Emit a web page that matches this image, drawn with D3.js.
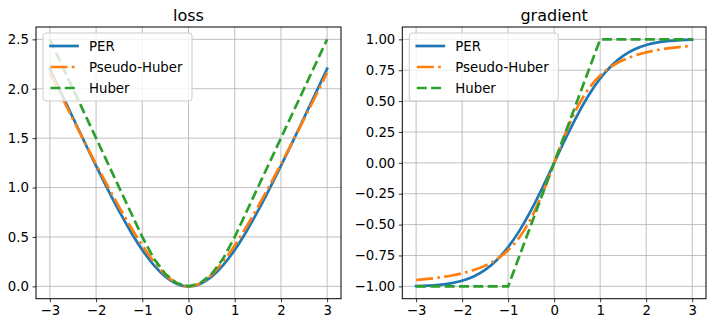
<!DOCTYPE html>
<html><head><meta charset="utf-8">
<script src="https://cdn.jsdelivr.net/npm/d3@7/dist/d3.min.js"></script>
<style>body{margin:0;background:#fff}svg{display:block;font-family:"DejaVu Sans",sans-serif}</style>
</head><body>
<svg id="chart" width="716" height="327"></svg>
<script>
const xs = [-3,-2.75,-2.5,-2.25,-2,-1.75,-1.5,-1.25,-1,-0.75,-0.5,-0.25,0,0.25,0.5,0.75,1,1.25,1.5,1.75,2,2.25,2.5,2.75,3];
const perLoss = [2.2029,1.9539,1.7061,1.4606,1.2191,0.9845,0.7607,0.5533,0.3687,0.2145,0.0977,0.0248,0,0.0248,0.0977,0.2145,0.3687,0.5533,0.7607,0.9845,1.2191,1.4606,1.7061,1.9539,2.2029];
const pseudoLoss = [2.1623,1.9262,1.6926,1.4622,1.2361,1.0156,0.8028,0.6008,0.4142,0.25,0.118,0.0308,0,0.0308,0.118,0.25,0.4142,0.6008,0.8028,1.0156,1.2361,1.4622,1.6926,1.9262,2.1623];
const huberLoss = [2.5,2.25,2,1.75,1.5,1.25,1,0.75,0.5,0.28125,0.125,0.03125,0,0.03125,0.125,0.28125,0.5,0.75,1,1.25,1.5,1.75,2,2.25,2.5];
const perGrad = [-0.9973,-0.994,-0.9876,-0.9756,-0.9545,-0.9199,-0.8664,-0.7887,-0.6827,-0.5467,-0.3829,-0.1974,0,0.1974,0.3829,0.5467,0.6827,0.7887,0.8664,0.9199,0.9545,0.9756,0.9876,0.994,0.9973];
const pseudoGrad = [-0.9487,-0.9398,-0.9285,-0.9138,-0.8944,-0.8682,-0.8321,-0.7809,-0.7071,-0.6,-0.4472,-0.2425,0,0.2425,0.4472,0.6,0.7071,0.7809,0.8321,0.8682,0.8944,0.9138,0.9285,0.9398,0.9487];
const huberGrad = [-1,-1,-1,-1,-1,-1,-1,-1,-1,-0.75,-0.5,-0.25,0,0.25,0.5,0.75,1,1,1,1,1,1,1,1,1];
const seriesNames = ["PER","Pseudo-Huber","Huber"];
const xTicks = [-3,-2,-1,0,1,2,3];
const lossTicks = [0,0.5,1,1.5,2,2.5];
const gradTicks = [-1,-0.75,-0.5,-0.25,0,0.25,0.5,0.75,1];

const styles = [
  {color:"#1f77b4", dash:null, smooth:true},
  {color:"#ff7f0e", dash:"17,4.3,2.7,4.3", smooth:true},
  {color:"#2ca02c", dash:"10,4.3", smooth:false}
];
const LW = 2.7;
const svg = d3.select("#chart");
const FS = 13.3;
const fmtMinus = s => s.replace("-", "\u2212");

function panel(cfg){
  const x = d3.scaleLinear().domain([-3.3,3.3]).range([cfg.x0,cfg.x1]);
  const y = d3.scaleLinear().domain(cfg.ydom).range([298.7,27]);
  const g = svg.append("g");
  g.selectAll(".gx").data(xTicks).join("line")
    .attr("x1",d=>x(d)).attr("x2",d=>x(d)).attr("y1",27).attr("y2",298.7)
    .attr("stroke","#b0b0b0").attr("stroke-width",0.8);
  g.selectAll(".gy").data(cfg.ticks).join("line")
    .attr("y1",d=>y(d)).attr("y2",d=>y(d)).attr("x1",cfg.x0).attr("x2",cfg.x1)
    .attr("stroke","#b0b0b0").attr("stroke-width",0.8);
  const xa = g.append("g").attr("transform",`translate(0,298.7)`)
    .call(d3.axisBottom(x).tickValues(xTicks).tickSize(3.5).tickPadding(3.5).tickFormat(d=>fmtMinus(d3.format("d")(d))));
  const ya = g.append("g").attr("transform",`translate(${cfg.x0},0)`)
    .call(d3.axisLeft(y).tickValues(cfg.ticks).tickSize(3.5).tickPadding(3.5).tickFormat(d=>fmtMinus(d3.format(cfg.fmt)(d))));
  [xa,ya].forEach(a=>{
    a.select(".domain").remove();
    a.selectAll("text").attr("font-size",FS).attr("font-family","DejaVu Sans").attr("fill","#000");
    a.selectAll("line").attr("stroke","#000").attr("stroke-width",0.8);
  });
  cfg.data.forEach((vals,i)=>{
    const st = styles[i];
    const line = d3.line().x((d,j)=>x(xs[j])).y(d=>y(d)).curve(st.smooth?d3.curveMonotoneX:d3.curveLinear);
    g.append("path").attr("d",line(vals)).attr("fill","none")
      .attr("stroke",st.color).attr("stroke-width",LW)
      .attr("stroke-dasharray",st.dash).attr("stroke-linecap",st.dash?"butt":"square");
  });
  g.append("rect").attr("x",cfg.x0).attr("y",27).attr("width",cfg.x1-cfg.x0).attr("height",298.7-27)
    .attr("fill","none").attr("stroke","#000").attr("stroke-width",1);
  g.append("text").attr("x",(cfg.x0+cfg.x1)/2).attr("y",21).attr("text-anchor","middle")
    .attr("font-size",16).text(cfg.title);
  const lx = cfg.x0+7;
  const lg = g.append("g");
  lg.append("rect").attr("x",lx).attr("y",33).attr("width",149).attr("height",68).attr("rx",3)
    .attr("fill","#fff").attr("fill-opacity",0.8).attr("stroke","#cccccc").attr("stroke-width",1);
  seriesNames.forEach((n,i)=>{
    const yy = 46 + i*21;
    const st = styles[i];
    lg.append("line").attr("x1",lx+7.5).attr("x2",lx+34.5).attr("y1",yy).attr("y2",yy)
      .attr("stroke",st.color).attr("stroke-width",LW).attr("stroke-dasharray",st.dash)
      .attr("stroke-linecap",st.dash?"butt":"square");
    lg.append("text").attr("x",lx+46).attr("y",yy+4.8).attr("font-size",FS).text(n);
  });
}

panel({x0:36,x1:341,ydom:[-0.125,2.625],ticks:lossTicks,fmt:".1f",title:"loss",data:[perLoss,pseudoLoss,huberLoss]});
panel({x0:402.3,x1:706,ydom:[-1.1,1.1],ticks:gradTicks,fmt:".2f",title:"gradient",data:[perGrad,pseudoGrad,huberGrad]});
</script>
</body></html>
